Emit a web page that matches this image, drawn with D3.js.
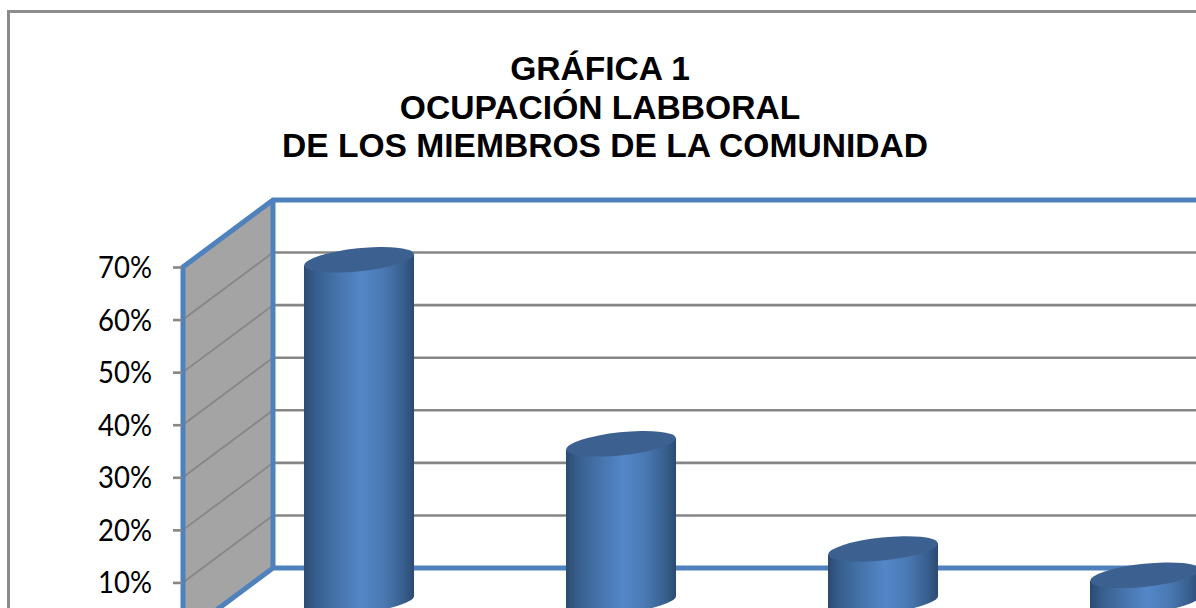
<!DOCTYPE html>
<html lang="es">
<head>
<meta charset="utf-8">
<title>Gráfica 1</title>
<script src="https://cdn.jsdelivr.net/npm/d3@7"></script>
<style>
  html, body { margin: 0; padding: 0; background: #fff; overflow: hidden; }
  svg { display: block; }
  .title { font-family: "Liberation Sans", Arial, sans-serif; font-weight: 700; font-size: 33.6px; fill: #000; }
  .y-axis text { font-family: Lato, "Open Sans", sans-serif; font-size: 30px; fill: #000; }
</style>
</head>
<body>
<svg id="chart" width="1196" height="608"></svg>
<script>
const titleLines = ["GRÁFICA 1", "OCUPACIÓN LABBORAL", "DE LOS MIEMBROS DE LA COMUNIDAD"];
const barIds = [1, 2, 3, 4];
const barValues = [0.65, 0.3, 0.1, 0.05];
// the 0% tick sits below the bottom edge of the picture
const yTicks = [0.1, 0.2, 0.3, 0.4, 0.5, 0.6, 0.7];

const width = 1196;
const height = 608;
const depth = { x: 90, y: -67 };
const blue = "#4f81bd";
const gridGray = "#868686";

const svg = d3.select("#chart");

// front plane scales, the plot runs past the right and bottom edge of the picture
const xScale = d3.scaleBand().domain(barIds).range([183, 1231]).paddingInner(0.58).paddingOuter(0.29);
const yScale = d3.scaleLinear().domain([0, 0.7]).range([635, 267]);

const gradient = svg.append("defs").append("linearGradient").attr("id", "cyl");
[
  [0, "#2c4a72"],
  [0.12, "#38608f"],
  [0.3, "#4573aa"],
  [0.52, "#5487c9"],
  [0.72, "#4a79b3"],
  [0.9, "#38608f"],
  [1, "#2c4a72"],
].forEach(([offset, color]) => {
  gradient.append("stop").attr("offset", offset).attr("stop-color", color);
});

// outer chart frame
svg.append("path")
  .attr("d", `M8.5,${height + 5}V11.5H${width + 5}`)
  .attr("fill", "none")
  .attr("stroke", "#8c8c8c")
  .attr("stroke-width", 3);

// the first two lines sit a little left of the third one in the picture
svg.append("g")
  .selectAll("text")
  .data(titleLines)
  .join("text")
  .attr("class", "title")
  .attr("x", (d, i) => (i < 2 ? 600 : 605))
  .attr("y", (d, i) => 80 + i * 38.5)
  .attr("text-anchor", "middle")
  .text((d) => d);

const yTop = yScale(0.7);
const yBase = yScale(0);
const xLeft = xScale.range()[0];
const xRight = xScale.range()[1];

// side wall
svg.append("path")
  .attr("d", `M${xLeft},${yTop}L${xLeft + depth.x},${yTop + depth.y}V${yBase + depth.y}L${xLeft},${yBase}Z`)
  .attr("fill", "#a4a4a4");

const inner = yTicks.filter((d) => d < 0.7);

// grid lines, thinner on the side wall than on the back wall
svg.append("g")
  .selectAll("path")
  .data(inner)
  .join("path")
  .attr("d", (d) => `M${xLeft},${yScale(d)}l${depth.x},${depth.y}`)
  .attr("fill", "none")
  .attr("stroke", gridGray)
  .attr("stroke-width", 1.8);

svg.append("g")
  .selectAll("path")
  .data(inner)
  .join("path")
  .attr("d", (d) => `M${xLeft + depth.x},${yScale(d) + depth.y}H${xRight + depth.x}`)
  .attr("fill", "none")
  .attr("stroke", gridGray)
  .attr("stroke-width", 2.6);

// wall outlines
svg.append("path")
  .attr("d", `M${xLeft},${yBase}V${yTop}L${xLeft + depth.x},${yTop + depth.y}H${xRight + depth.x}`)
  .attr("fill", "none")
  .attr("stroke", blue)
  .attr("stroke-width", 5);
svg.append("path")
  .attr("d", `M${xLeft + depth.x},${yTop + depth.y}V${yBase + depth.y}H${xRight + depth.x}M${xLeft + depth.x},${yBase + depth.y}L${xLeft},${yBase}`)
  .attr("fill", "none")
  .attr("stroke", blue)
  .attr("stroke-width", 5);

const yAxisG = svg.append("g")
  .attr("class", "y-axis")
  .attr("transform", `translate(${xLeft - 1},0)`)
  .call(d3.axisLeft(yScale).tickValues(yTicks).tickFormat(d3.format(".0%")).tickSize(9).tickPadding(21));
yAxisG.select(".domain").remove();
yAxisG.selectAll("line").attr("stroke", gridGray).attr("stroke-width", 2.6);
yAxisG.selectAll("text")
  .attr("dy", "0.35em")
  .attr("textLength", 54)
  .attr("lengthAdjust", "spacingAndGlyphs");

// cylinders stand half way into the depth of the floor
const capRx = xScale.bandwidth() / 2;
const capRy = 11.5;
const capTilt = -6;

const bars = svg.append("g")
  .selectAll("g")
  .data(barIds.map((id, i) => ({ id, value: barValues[i] })))
  .join("g")
  .attr("transform", (d) => `translate(${xScale(d.id) + capRx + depth.x / 2},${depth.y / 2})`);

const tiltDy = capRx * Math.sin((-capTilt * Math.PI) / 180);

bars.append("path")
  .attr("d", (d) => {
    const top = yScale(d.value);
    return `M${-capRx},${top + tiltDy}L${capRx},${top - tiltDy}`
      + `V${yBase - tiltDy}`
      + `A${capRx},${capRy} ${capTilt} 0 1 ${-capRx},${yBase + tiltDy}Z`;
  })
  .attr("fill", "url(#cyl)");

bars.append("ellipse")
  .attr("rx", capRx)
  .attr("ry", capRy)
  .attr("transform", (d) => `translate(0,${yScale(d.value)}) rotate(${capTilt})`)
  .attr("fill", "#3c6190");
</script>
</body>
</html>
